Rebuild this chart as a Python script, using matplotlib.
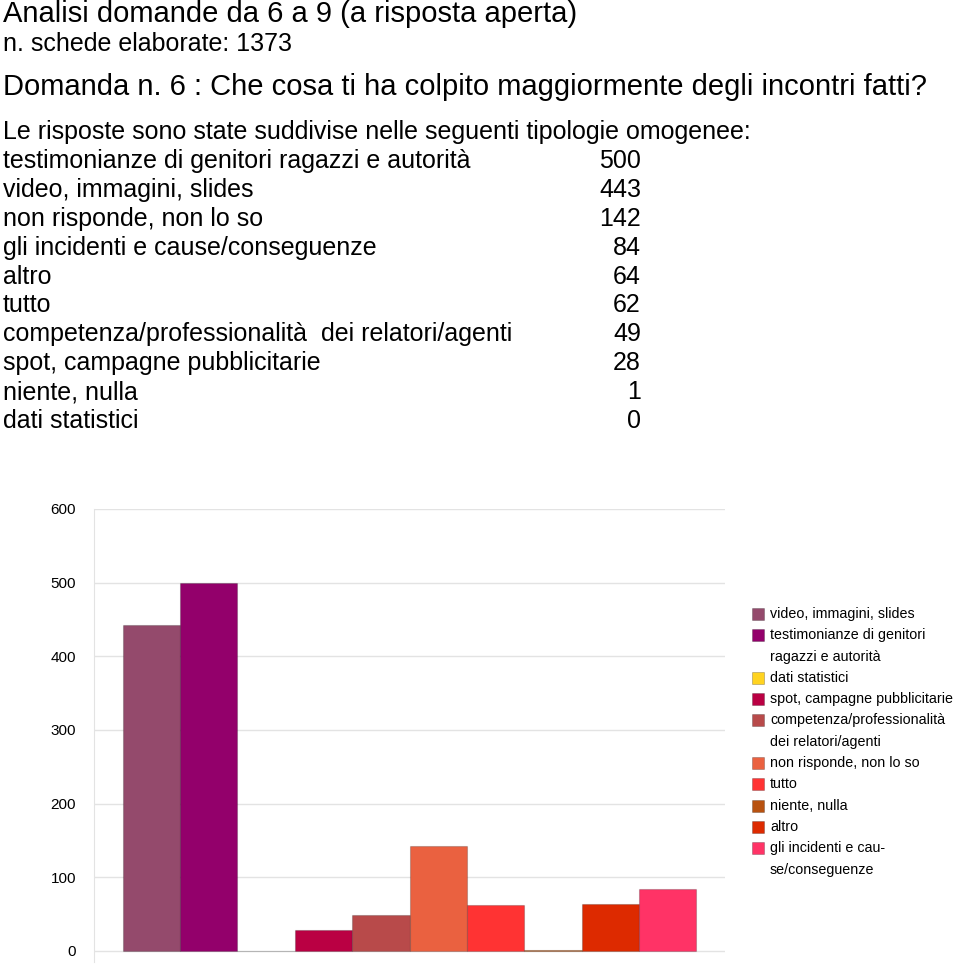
import matplotlib.pyplot as plt
from matplotlib.patches import Rectangle
import numpy as np

plt.rcParams['font.family']=['Liberation Sans','DejaVu Sans']

W,H=960,964
#Text block above the chart.
title='Analisi domande da 6 a 9 (a risposta aperta)'
subtitle='n. schede elaborate: 1373'
question='Domanda n. 6 : Che cosa ti ha colpito maggiormente degli incontri fatti?'
intro='Le risposte sono state suddivise nelle seguenti tipologie omogenee:'
table_labels=['testimonianze di genitori ragazzi e autorità','video, immagini, slides',
    'non risponde, non lo so','gli incidenti e cause/conseguenze','altro','tutto',
    'competenza/professionalità  dei relatori/agenti','spot, campagne pubblicitarie',
    'niente, nulla','dati statistici']
table_values=[500,443,142,84,64,62,49,28,1,0]

#Chart series, in the chart's own order.
series=['video, immagini, slides','testimonianze di genitori\nragazzi e autorità',
    'dati statistici','spot, campagne pubblicitarie',
    'competenza/professionalità\ndei relatori/agenti','non risponde, non lo so',
    'tutto','niente, nulla','altro','gli incidenti e cau-\nse/conseguenze']
values=[443,500,0,28,49,142,62,1,64,84]
colors=['#944a6c','#93006b','#ffd320','#ba0043','#b84a4a','#ea6140',
    '#ff3333','#b85210','#dd2a00','#ff3366']
yticks=[0,100,200,300,400,500,600]

fig=plt.figure(figsize=(W/100,H/100),dpi=100)
def fy(y):
    return 1-y/H

fig.text(0.003,fy(14),title,fontsize=21,va='center')
fig.text(0.003,fy(44),subtitle,fontsize=18,va='center')
fig.text(0.003,fy(87),question,fontsize=21,va='center')
fig.text(0.003,fy(132),intro,fontsize=18,va='center')
for i,(lab,v) in enumerate(zip(table_labels,table_values)):
    y=161+i*28.9
    fig.text(0.003,fy(y),lab,fontsize=18,va='center')
    fig.text(641/W,fy(y),str(v),fontsize=18,va='center',ha='right')

#Bar chart.
ax=fig.add_axes([94/W,2/H,631/W,453/H])
bw=1.0
x=np.arange(len(values))*bw
ax.bar(x,values,width=bw,align='edge',color=colors,edgecolor='#00000033',linewidth=0.8,zorder=3)
ax.set_xlim(-0.5,len(values)+0.5)
ax.set_ylim(-15,600)
ax.set_yticks(yticks)
ax.set_yticklabels([str(t) for t in yticks],fontsize=11)
ax.tick_params(axis='y',length=0,pad=13)
ax.set_xticks([])
ax.grid(axis='y',color='#e3e3e3',linewidth=1,zorder=0)
for s in ['top','right','bottom']:
    ax.spines[s].set_visible(False)
ax.spines['left'].set_color('#e3e3e3')

#Legend drawn by hand, one text per line.
ly=614
for lab,c in zip(series,colors):
    fig.patches.append(Rectangle((752/W,fy(ly+6)),12/W,12/H,transform=fig.transFigure,
        facecolor=c,edgecolor='#00000040',linewidth=0.6))
    for part in lab.split('\n'):
        fig.text(770/W,fy(ly),part,fontsize=10.3,va='center')
        ly+=21.3
plt.savefig('out.png',dpi=100,facecolor='white')
